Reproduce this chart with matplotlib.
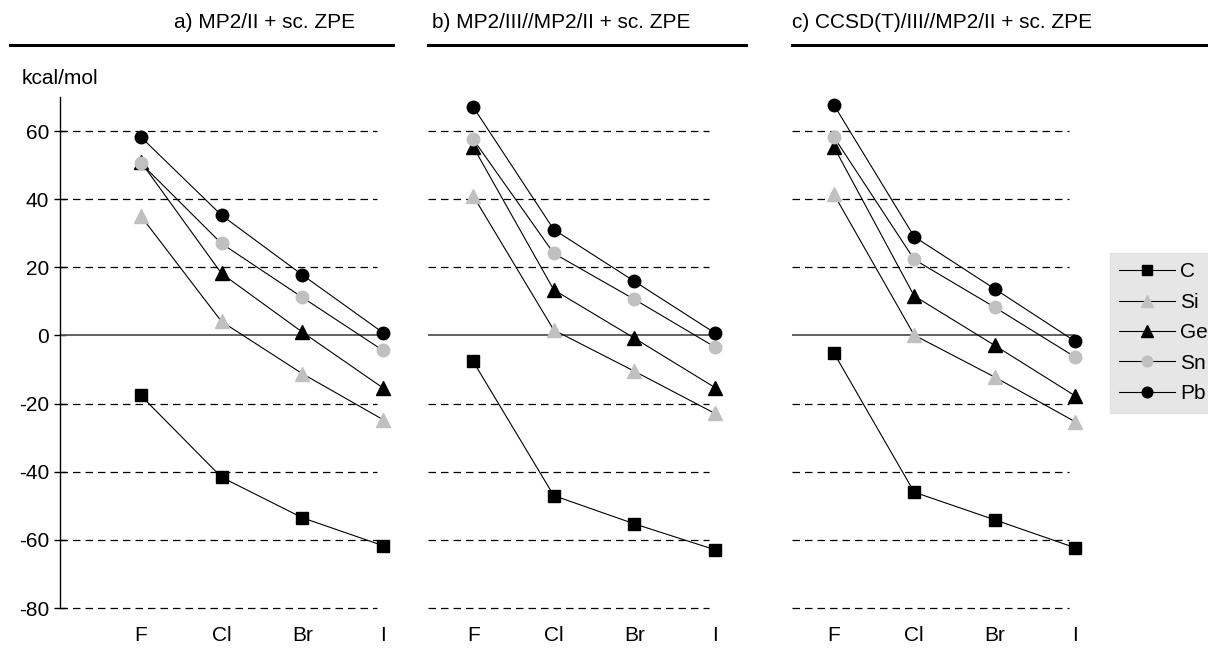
import matplotlib
matplotlib.use("Agg")
import matplotlib.pyplot as plt

halogens = ["F", "Cl", "Br", "I"]
elements = ["C", "Si", "Ge", "Sn", "Pb"]

panel_titles = ["a) MP2/II + sc. ZPE",
                "b) MP2/III//MP2/II + sc. ZPE",
                "c) CCSD(T)/III//MP2/II + sc. ZPE"]

# values in kcal/mol, rows follow `elements`
vals_a = [
    [-17.6, -41.6, -53.5, -61.7],
    [35.1, 4.1, -11.2, -24.7],
    [51.0, 18.2, 1.0, -15.4],
    [50.6, 27.0, 11.2, -4.4],
    [58.3, 35.3, 17.8, 0.8],
]
vals_b = [
    [-7.6, -47.0, -55.3, -62.9],
    [41.0, 1.6, -10.5, -22.9],
    [55.4, 13.4, -0.8, -15.3],
    [57.6, 24.1, 10.6, -3.4],
    [67.1, 31.1, 15.9, 0.7],
]
vals_c = [
    [-5.1, -46.0, -54.1, -62.3],
    [41.5, 0.1, -12.2, -25.3],
    [55.4, 11.6, -2.9, -17.7],
    [58.3, 22.3, 8.3, -6.3],
    [67.7, 29.0, 13.7, -1.7],
]

GRAY = "#c0c0c0"
styles = {
    "C": dict(marker="s", mfc="black", mec="black", ms=8.5),
    "Si": dict(marker="^", mfc=GRAY, mec=GRAY, ms=9.5),
    "Ge": dict(marker="^", mfc="black", mec="black", ms=9.5),
    "Sn": dict(marker="o", mfc=GRAY, mec=GRAY, ms=9),
    "Pb": dict(marker="o", mfc="black", mec="black", ms=9),
}

W, H = 1208, 648
fig = plt.figure(figsize=(W / 100, H / 100), dpi=100)
fig.patch.set_facecolor("white")

# (left px, right px, xmin)
boxes = [(60, 383, -1.0), (428, 715, -0.56), (792, 1075, -0.52)]
top_px, bot_px = 97, 608
title_font = ["Liberation Sans Narrow", "Liberation Sans", "DejaVu Sans"]
body_font = ["Liberation Sans", "DejaVu Sans"]
FS = 15

handles = []
for i, (vals, title) in enumerate(zip([vals_a, vals_b, vals_c], panel_titles)):
    l, r, xmin = boxes[i]
    ax = fig.add_axes([l / W, (H - bot_px) / H, (r - l) / W, (bot_px - top_px) / H])
    ax.set_xlim(xmin, 3)
    ax.set_ylim(-80, 70)
    ax.patch.set_alpha(0)
    for s in ["top", "right", "bottom"]:
        ax.spines[s].set_visible(False)

    for y in [-80, -60, -40, -20, 20, 40, 60]:
        ax.hlines(y, xmin, 2.92, colors="black", linestyles=(0, (6, 4)),
                  lw=0.9, clip_on=False)
    ax.hlines(0, xmin, 3, colors="#555555", lw=1.3)

    x = range(len(halogens))
    for el, row in zip(elements, vals):
        ln, = ax.plot(x, row, color="black", lw=0.8, clip_on=False, zorder=3,
                      **styles[el])
        if i == 0:
            handles.append(ln)

    ax.set_xticks(list(x))
    ax.set_xticklabels(halogens, fontsize=FS, family=body_font)
    ax.tick_params(axis="x", length=0, pad=13)

    if i == 0:
        ax.set_yticks(range(-80, 61, 20))
        ax.set_yticklabels([str(v) for v in range(-80, 61, 20)],
                           fontsize=FS, family=body_font)
        ax.tick_params(axis="y", length=8, width=1, direction="inout", pad=4)
        ax.spines["left"].set_linewidth(1)
    else:
        ax.spines["left"].set_visible(False)
        ax.set_yticks([])

# panel titles and rules
title_x = [265, 432, 792]
title_ha = ["center", "left", "left"]
for t, tx, ha in zip(panel_titles, title_x, title_ha):
    fig.text(tx / W, 1 - 22 / H, t, ha=ha, va="center", fontsize=15,
             family=title_font)
rules = [(10, 393), (428, 746), (792, 1208)]
for x0, x1 in rules:
    fig.add_artist(plt.Line2D([x0 / W, x1 / W], [1 - 45 / H, 1 - 45 / H],
                              color="black", lw=2.2, transform=fig.transFigure))

fig.text(22 / W, 1 - 78 / H, "kcal/mol", ha="left", va="center",
         fontsize=FS, family=body_font)

leg = fig.legend(handles, elements, loc="upper left",
                 bbox_to_anchor=(1110 / W, 1 - 253 / H),
                 frameon=True, fancybox=False, handlelength=2.65,
                 handletextpad=0.25, labelspacing=0.55, borderpad=0.45,
                 borderaxespad=0, markerscale=0.85,
                 prop={"family": body_font, "size": FS})
leg.get_frame().set_facecolor("#e0e0e0")
leg.get_frame().set_edgecolor("#e0e0e0")

fig.savefig("out.png", dpi=100)
